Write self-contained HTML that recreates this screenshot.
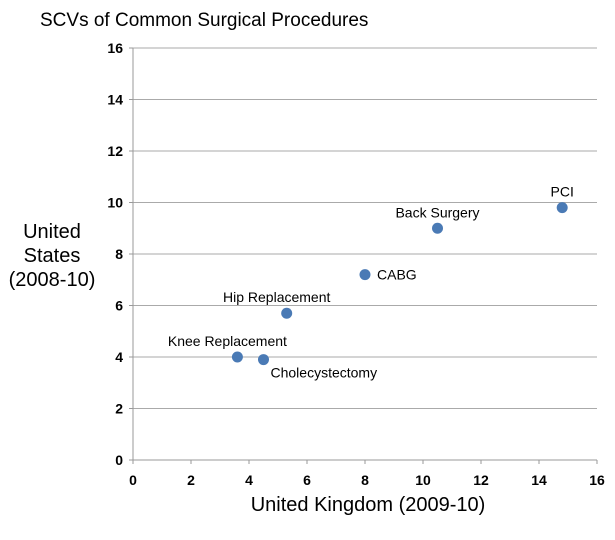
<!DOCTYPE html>
<html><head><meta charset="utf-8"><style>
body{margin:0;background:#fff;font-family:"Liberation Sans",sans-serif;}
svg text{font-family:"Liberation Sans",sans-serif;}
</style></head><body>
<svg id="chart" width="615" height="535">
<text x="40" y="26" font-size="19" fill="#000">SCVs of Common Surgical Procedures</text>
<g id="grid"></g><g id="axes"></g><g id="marks"></g>
<text x="52" y="238" font-size="20" text-anchor="middle"><tspan x="52" y="238">United</tspan><tspan x="52" y="262">States</tspan><tspan x="52" y="286">(2008-10)</tspan></text>
<text x="368" y="511" font-size="20" text-anchor="middle">United Kingdom (2009-10)</text>
</svg>
<script>
const procedures=["Knee Replacement","Cholecystectomy","Hip Replacement","CABG","Back Surgery","PCI"];
const ukValues=[3.6,4.5,5.3,8.0,10.5,14.8];
const usValues=[4.0,3.9,5.7,7.2,9.0,9.8];
const xTicks=[0,2,4,6,8,10,12,14,16];
const yTicks=[0,2,4,6,8,10,12,14,16];
const labelPos=["above-left","below-right","above-left","right","above","above"];
const NS="http://www.w3.org/2000/svg";
const X0=133,X1=597,Y0=460,Y1=48;
function sx(v){return X0+(v/16)*(X1-X0);}
function sy(v){return Y0-(v/16)*(Y0-Y1);}
function mk(t,a,p){const e=document.createElementNS(NS,t);for(const k in a)e.setAttribute(k,a[k]);p.appendChild(e);return e;}
const grid=document.getElementById('grid'),axes=document.getElementById('axes'),marks=document.getElementById('marks');
yTicks.forEach(v=>{
  if(v>0){const l=mk('line',{x1:X0,x2:X1,y1:sy(v),y2:sy(v),stroke:'#aaa','stroke-width':1},grid);
  
  }
  const t=mk('text',{x:X0-10,y:sy(v)+5,'font-size':14,'font-weight':'bold','text-anchor':'end'},axes);
  t.textContent=v;
  
  
  mk('line',{x1:X0-4,x2:X0,y1:sy(v),y2:sy(v),stroke:'#999'},axes);
});
xTicks.forEach(v=>{
  const t=mk('text',{x:sx(v),y:Y0+25,'font-size':14,'font-weight':'bold','text-anchor':'middle'},axes);
  t.textContent=v;
  
  
  mk('line',{x1:sx(v),x2:sx(v),y1:Y0,y2:Y0+4,stroke:'#999'},axes);
});
const xa=mk('line',{x1:X0,x2:X1,y1:Y0,y2:Y0,stroke:'#999'},axes);


const ya=mk('line',{x1:X0,x2:X0,y1:Y0,y2:Y1,stroke:'#999'},axes);


procedures.forEach((p,i)=>{
  const cx=sx(ukValues[i]),cy=sy(usValues[i]);
  const c=mk('circle',{cx:cx,cy:cy,r:5.5,fill:'#4a7ab5'},marks);
  
  
  let lx=cx,ly=cy-11,anc='middle';
  if(labelPos[i]==='above-left'){lx=cx-10;}
  if(labelPos[i]==='right'){lx=cx+12;ly=cy+5;anc='start';}
  if(labelPos[i]==='below-right'){lx=cx+7;ly=cy+18;anc='start';}
  const t=mk('text',{x:lx,y:ly,'font-size':14,'text-anchor':anc},marks);
  t.textContent=p;
  
  
});
</script>
</body></html>
